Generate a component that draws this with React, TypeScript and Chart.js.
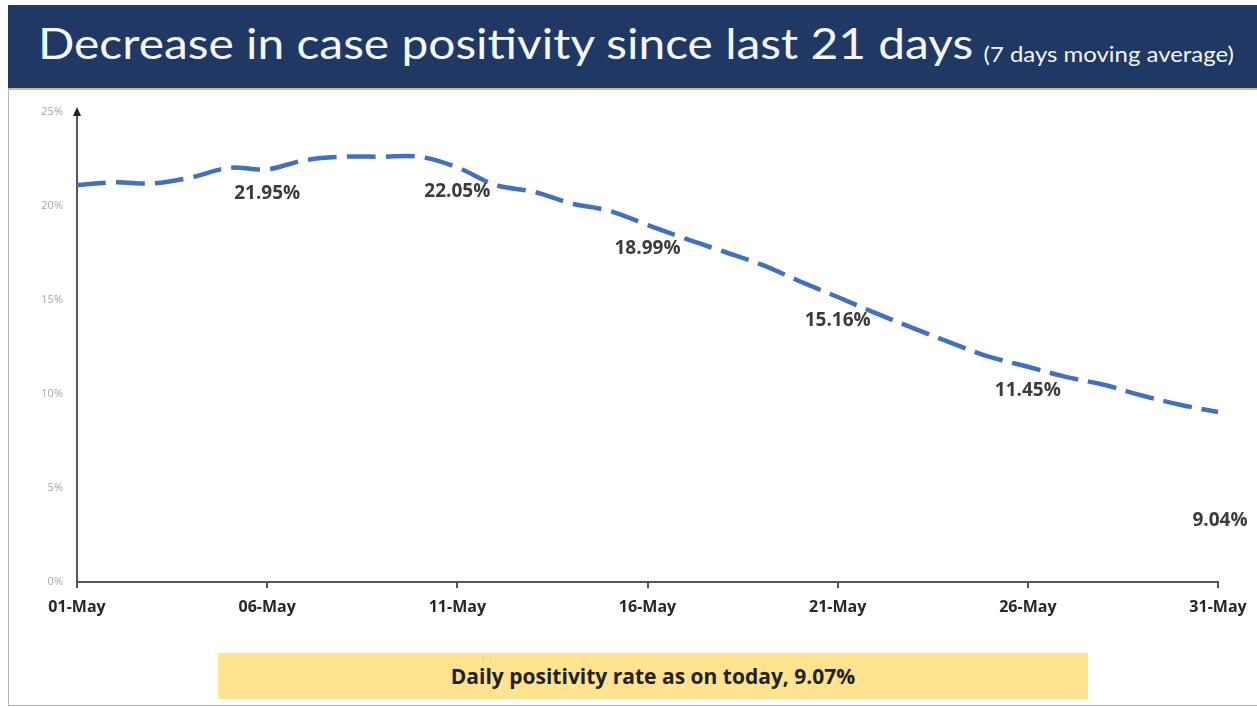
import React, { useEffect, useRef } from 'react';
import { Chart, registerables } from 'chart.js';

Chart.register(...registerables);

const dates = [
  '01-May', '02-May', '03-May', '04-May', '05-May', '06-May', '07-May', '08-May',
  '09-May', '10-May', '11-May', '12-May', '13-May', '14-May', '15-May', '16-May',
  '17-May', '18-May', '19-May', '20-May', '21-May', '22-May', '23-May', '24-May',
  '25-May', '26-May', '27-May', '28-May', '29-May', '30-May', '31-May',
];
const positivity = [
  21.12, 21.26, 21.2, 21.52, 22.03, 21.95, 22.44, 22.62, 22.62, 22.62, 22.05,
  21.12, 20.76, 20.14, 19.74, 18.99, 18.26, 17.58, 16.88, 16.0, 15.16,
  14.3, 13.49, 12.71, 11.97, 11.45, 10.91, 10.49, 9.92, 9.43, 9.04,
];
const xTickDates = ['01-May', '06-May', '11-May', '16-May', '21-May', '26-May', '31-May'];
const yTickValues = [0, 5, 10, 15, 20, 25];
const labelledDates = ['06-May', '11-May', '16-May', '21-May', '26-May', '31-May'];
const titleMain = 'Decrease in case positivity since last 21 days';
const titleSub = '(7 days moving average)';
const bannerText = 'Daily positivity rate as on today, 9.07%';

export default function App() {
  const ref = useRef<HTMLCanvasElement>(null);

  useEffect(() => {
    document.body.style.margin = '0';
    const canvas = ref.current;
    if (!canvas) return;

    const pointLabels = {
      id: 'pointLabels',
      afterDatasetsDraw(chart: any) {
        const ctx = chart.ctx;
        const meta = chart.getDatasetMeta(0);
        ctx.save();
        ctx.font = 'bold 19px "Open Sans"';
        ctx.fillStyle = '#3b3b3b';
        ctx.textAlign = 'center';
        ctx.textBaseline = 'middle';
        labelledDates.forEach((d) => {
          const i = dates.indexOf(d);
          const pt = meta.data[i];
          const last = i === dates.length - 1;
          const x = last ? pt.x + 2 : pt.x;
          const y = last ? pt.y + 109 : pt.y + 24;
          ctx.fillText(positivity[i].toFixed(2) + '%', x, y);
        });
        ctx.restore();
      },
    };

    const axisArrow = {
      id: 'axisArrow',
      afterDraw(chart: any) {
        const { ctx, chartArea } = chart;
        const x = chartArea.left;
        const y = chartArea.top;
        ctx.save();
        ctx.fillStyle = '#222';
        ctx.beginPath();
        ctx.moveTo(x, y - 5);
        ctx.lineTo(x - 4, y + 4);
        ctx.lineTo(x + 4, y + 4);
        ctx.closePath();
        ctx.fill();
        ctx.restore();
      },
    };

    const chart = new Chart(canvas, {
      type: 'line',
      data: {
        labels: dates,
        datasets: [
          {
            data: positivity,
            borderColor: '#4170C2',
            borderWidth: 4.5,
            borderDash: [29, 10],
            tension: 0.35,
            pointRadius: 0,
            fill: false,
          },
        ],
      },
      options: {
        animation: false,
        responsive: false,
        devicePixelRatio: 1,
        layout: { padding: { left: 0, right: 39, top: 22, bottom: 28 } },
        plugins: { legend: { display: false }, tooltip: { enabled: false } },
        scales: {
          x: {
            type: 'category',
            offset: false,
            afterFit: (s: any) => {
              s.height = 40;
            },
            grid: {
              drawOnChartArea: false,
              drawTicks: true,
              tickLength: 6,
              tickColor: (c: any) =>
                xTickDates.includes(dates[c.index]) ? '#555' : 'rgba(0,0,0,0)',
              lineWidth: 2,
            },
            border: { display: true, color: '#555', width: 2 },
            ticks: {
              autoSkip: false,
              maxRotation: 0,
              padding: 10,
              color: '#262626',
              font: { family: 'Open Sans', size: 16, weight: 'bold' },
              callback: (_v: any, i: number) =>
                xTickDates.includes(dates[i]) ? dates[i] : '',
            },
          },
          y: {
            min: yTickValues[0],
            max: yTickValues[yTickValues.length - 1],
            afterFit: (s: any) => {
              s.width = 77;
            },
            afterBuildTicks: (s: any) => {
              s.ticks = yTickValues.map((v) => ({ value: v }));
            },
            grid: { drawOnChartArea: false, drawTicks: false },
            border: { display: true, color: '#555', width: 2 },
            ticks: {
              padding: 14,
              color: '#a6a6a6',
              font: { family: 'Open Sans', size: 11 },
              callback: (v: any) => v + '%',
            },
          },
        },
      },
      plugins: [pointLabels, axisArrow],
    });

    return () => chart.destroy();
  }, []);

  return (
    <div
      style={{
        position: 'absolute',
        left: 0,
        top: 0,
        width: 1257,
        height: 707,
        background: '#fff',
        overflow: 'hidden',
      }}
    >
      <div
        style={{
          position: 'absolute',
          left: 8,
          top: 5,
          width: 1249,
          height: 701,
          borderLeft: '1px solid #b5b5b5',
          borderBottom: '1px solid #b5b5b5',
          boxSizing: 'border-box',
        }}
      />
      <div
        style={{
          position: 'absolute',
          left: 8,
          top: 5,
          width: 1249,
          height: 83,
          background: '#1F3864',
          borderBottom: '2px solid #cdbb8a',
        }}
      />
      <div
        style={{
          position: 'absolute',
          left: 38,
          top: 18,
          whiteSpace: 'nowrap',
          color: '#f4f7ff',
          fontFamily: 'Lato, sans-serif',
          lineHeight: 1.2,
          transform: 'scaleX(1.14)',
          transformOrigin: 'left top',
        }}
      >
        <span style={{ fontSize: 42 }}>{titleMain}</span>
        <span style={{ fontSize: 21, marginLeft: 9, position: 'relative', top: 3 }}>{titleSub}</span>
      </div>
      <canvas
        ref={ref}
        width={1257}
        height={560}
        style={{ position: 'absolute', left: 0, top: 90, width: 1257, height: 560 }}
      />
      <div
        style={{
          position: 'absolute',
          left: 218,
          top: 653,
          width: 870,
          height: 46,
          background: '#FFE38F',
          display: 'flex',
          alignItems: 'center',
          justifyContent: 'center',
          fontFamily: '"Open Sans", sans-serif',
          fontWeight: 700,
          fontSize: 21,
          color: '#222',
        }}
      >
        {bannerText}
      </div>
    </div>
  );
}
